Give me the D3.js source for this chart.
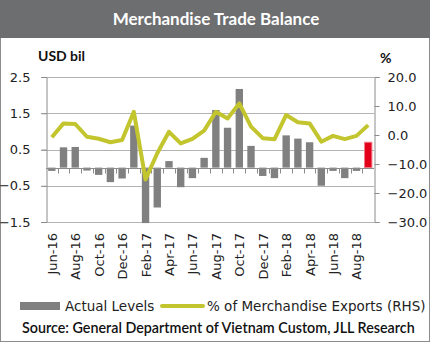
<!DOCTYPE html>
<html>
<head>
<meta charset="utf-8">
<script src="https://cdn.jsdelivr.net/npm/d3@7"></script>
<style>
  body { margin: 0; background: #fff; }
  svg { display: block; }
</style>
</head>
<body>
<svg width="433" height="351"></svg>
<script>
const months = ['Jun-16', 'Jul-16', 'Aug-16', 'Sep-16', 'Oct-16', 'Nov-16', 'Dec-16',
  'Jan-17', 'Feb-17', 'Mar-17', 'Apr-17', 'May-17', 'Jun-17', 'Jul-17', 'Aug-17',
  'Sep-17', 'Oct-17', 'Nov-17', 'Dec-17', 'Jan-18', 'Feb-18', 'Mar-18', 'Apr-18',
  'May-18', 'Jun-18', 'Jul-18', 'Aug-18', 'Sep-18']
// trade balance, USD bil
const levels = [-0.09, 0.56, 0.57, -0.08, -0.2, -0.4, -0.3, 1.16, -1.53, -1.1, 0.18,
  -0.54, -0.29, 0.27, 1.59, 1.1, 2.17, 0.6, -0.23, -0.29, 0.89, 0.8, 0.7, -0.5,
  -0.09, -0.29, -0.09, 0.7]
// % of merchandise exports (RHS)
const pctExports = [-0.8, 4.0, 3.8, -0.6, -1.3, -2.5, -1.7, 8.0, -15.3, -6.3, 1.1,
  -2.9, -1.3, 1.5, 8.0, 5.7, 10.9, 2.9, -1.1, -1.5, 6.9, 4.4, 4.0, -2.3, -0.3,
  -1.4, -0.3, 3.4]
const leftTicks = [2.5, 1.5, 0.5, -0.5, -1.5]
const rightTicks = [20, 10, 0, -10, -20, -30]
const highlight = 'Sep-18'

const svg = d3.select('svg')
const tickFont = '"DejaVu Sans", sans-serif'
const headFont = 'Lato, "Open Sans", sans-serif'

// frame + title bar
svg.append('rect').attr('x', 0.5).attr('y', 0.5).attr('width', 429).attr('height', 341)
  .attr('fill', '#fff').attr('stroke', '#8c8c8c')
svg.append('rect').attr('x', 0).attr('y', 0).attr('width', 430).attr('height', 38)
  .attr('fill', '#6d6e70')
svg.append('text').attr('x', 216).attr('y', 25).attr('text-anchor', 'middle')
  .attr('font-family', headFont).attr('font-weight', 'bold').attr('font-size', 17)
  .attr('fill', '#fff').text('Merchandise Trade Balance')

const m = { left: 46, right: 374, top: 77, bottom: 222 }
const x = d3.scaleBand().domain(months).range([m.left, m.right]).paddingInner(0.37).paddingOuter(0.18)
const y = d3.scaleLinear().domain([-1.5, 2.5]).range([m.bottom, m.top])
const y2 = d3.scaleLinear().domain([-30, 20]).range([m.bottom, m.top])

// gridlines
svg.append('g').selectAll('line').data(leftTicks).join('line')
  .attr('x1', m.left - 5).attr('x2', m.right)
  .attr('y1', (d) => Math.round(y(d)) + 0.5).attr('y2', (d) => Math.round(y(d)) + 0.5)
  .attr('stroke', '#b3b3b3').attr('stroke-width', 1)

// left axis
const yAxis = svg.append('g').attr('transform', `translate(${m.left + 0.5},0)`)
  .call(d3.axisLeft(y).tickValues(leftTicks).tickFormat(d3.format('.1f')).tickSize(5).tickPadding(11))
yAxis.select('.domain').attr('stroke', '#8c8c8c')
yAxis.selectAll('.tick line').attr('stroke', '#8c8c8c')
yAxis.selectAll('text').attr('font-family', tickFont).attr('font-size', 13).attr('fill', '#222')

// right axis
const y2Axis = svg.append('g').attr('transform', `translate(${m.right + 0.5},0)`)
  .call(d3.axisRight(y2).tickValues(rightTicks).tickFormat(d3.format('.1f')).tickSize(5).tickPadding(8))
y2Axis.select('.domain').attr('stroke', '#8c8c8c')
y2Axis.selectAll('.tick line').attr('stroke', '#8c8c8c')
y2Axis.selectAll('text').attr('font-family', tickFont).attr('font-size', 13).attr('fill', '#222')

// axis titles
svg.append('text').attr('x', 38).attr('y', 61).attr('font-family', headFont)
  .attr('font-weight', 'bold').attr('font-size', 14).attr('fill', '#111').text('USD bil')
svg.append('text').attr('x', 380).attr('y', 63).attr('font-family', headFont)
  .attr('font-weight', 'bold').attr('font-size', 14).attr('fill', '#111').text('%')

// bars
svg.append('g').selectAll('rect').data(months).join('rect')
  .attr('x', (d) => x(d))
  .attr('width', x.bandwidth())
  .attr('y', (d, i) => y(Math.max(0, levels[i])))
  .attr('height', (d, i) => Math.abs(y(levels[i]) - y(0)))
  .attr('fill', (d) => (d === highlight ? '#e3001b' : '#808080'))
  .attr('stroke', (d) => (d === highlight ? '#f07a85' : 'none'))
  .attr('stroke-width', 1)

// zero axis with category ticks
const step = x.step()
const xAxis = svg.append('g').attr('transform', `translate(0,${Math.round(y(0)) + 0.5})`)
xAxis.append('line').attr('x1', m.left).attr('x2', m.right).attr('stroke', '#8c8c8c')
xAxis.selectAll('line.tk').data(d3.range(1, months.length)).join('line')
  .attr('class', 'tk')
  .attr('x1', (i) => Math.round(m.left + i * (m.right - m.left) / months.length) + 0.5)
  .attr('x2', (i) => Math.round(m.left + i * (m.right - m.left) / months.length) + 0.5)
  .attr('y1', 0).attr('y2', 5).attr('stroke', '#8c8c8c')

// line
const line = d3.line()
  .x((d, i) => x(months[i]) + x.bandwidth() / 2)
  .y((d) => y2(d))
svg.append('path').datum(pctExports).attr('d', line)
  .attr('fill', 'none').attr('stroke', '#c3c52f').attr('stroke-width', 4)
  .attr('stroke-linejoin', 'round')

// x labels
svg.append('g').selectAll('text').data(months.filter((d, i) => i % 2 === 0)).join('text')
  .attr('transform', (d) => `translate(${x(d) + x.bandwidth() / 2 + 5},233) rotate(-90)`)
  .attr('text-anchor', 'end')
  .attr('font-family', tickFont).attr('font-size', 13).attr('fill', '#222')
  .text((d) => d)

// legend
svg.append('rect').attr('x', 20).attr('y', 302).attr('width', 40).attr('height', 8).attr('fill', '#808080')
svg.append('text').attr('x', 65).attr('y', 311).attr('font-family', tickFont)
  .attr('font-size', 13.5).attr('fill', '#222').text('Actual Levels')
svg.append('line').attr('x1', 162).attr('x2', 203).attr('y1', 306).attr('y2', 306)
  .attr('stroke', '#c3c52f').attr('stroke-width', 4).attr('stroke-linecap', 'round')
svg.append('text').attr('x', 207).attr('y', 311).attr('font-family', tickFont)
  .attr('font-size', 13.5).attr('fill', '#222').text('% of Merchandise Exports (RHS)')

// source
svg.append('text').attr('x', 22).attr('y', 333).attr('font-family', headFont)
  .attr('font-weight', 600).attr('font-size', 14.3).attr('fill', '#111')
  .text('Source: General Department of Vietnam Custom, JLL Research')
</script>
</body>
</html>
